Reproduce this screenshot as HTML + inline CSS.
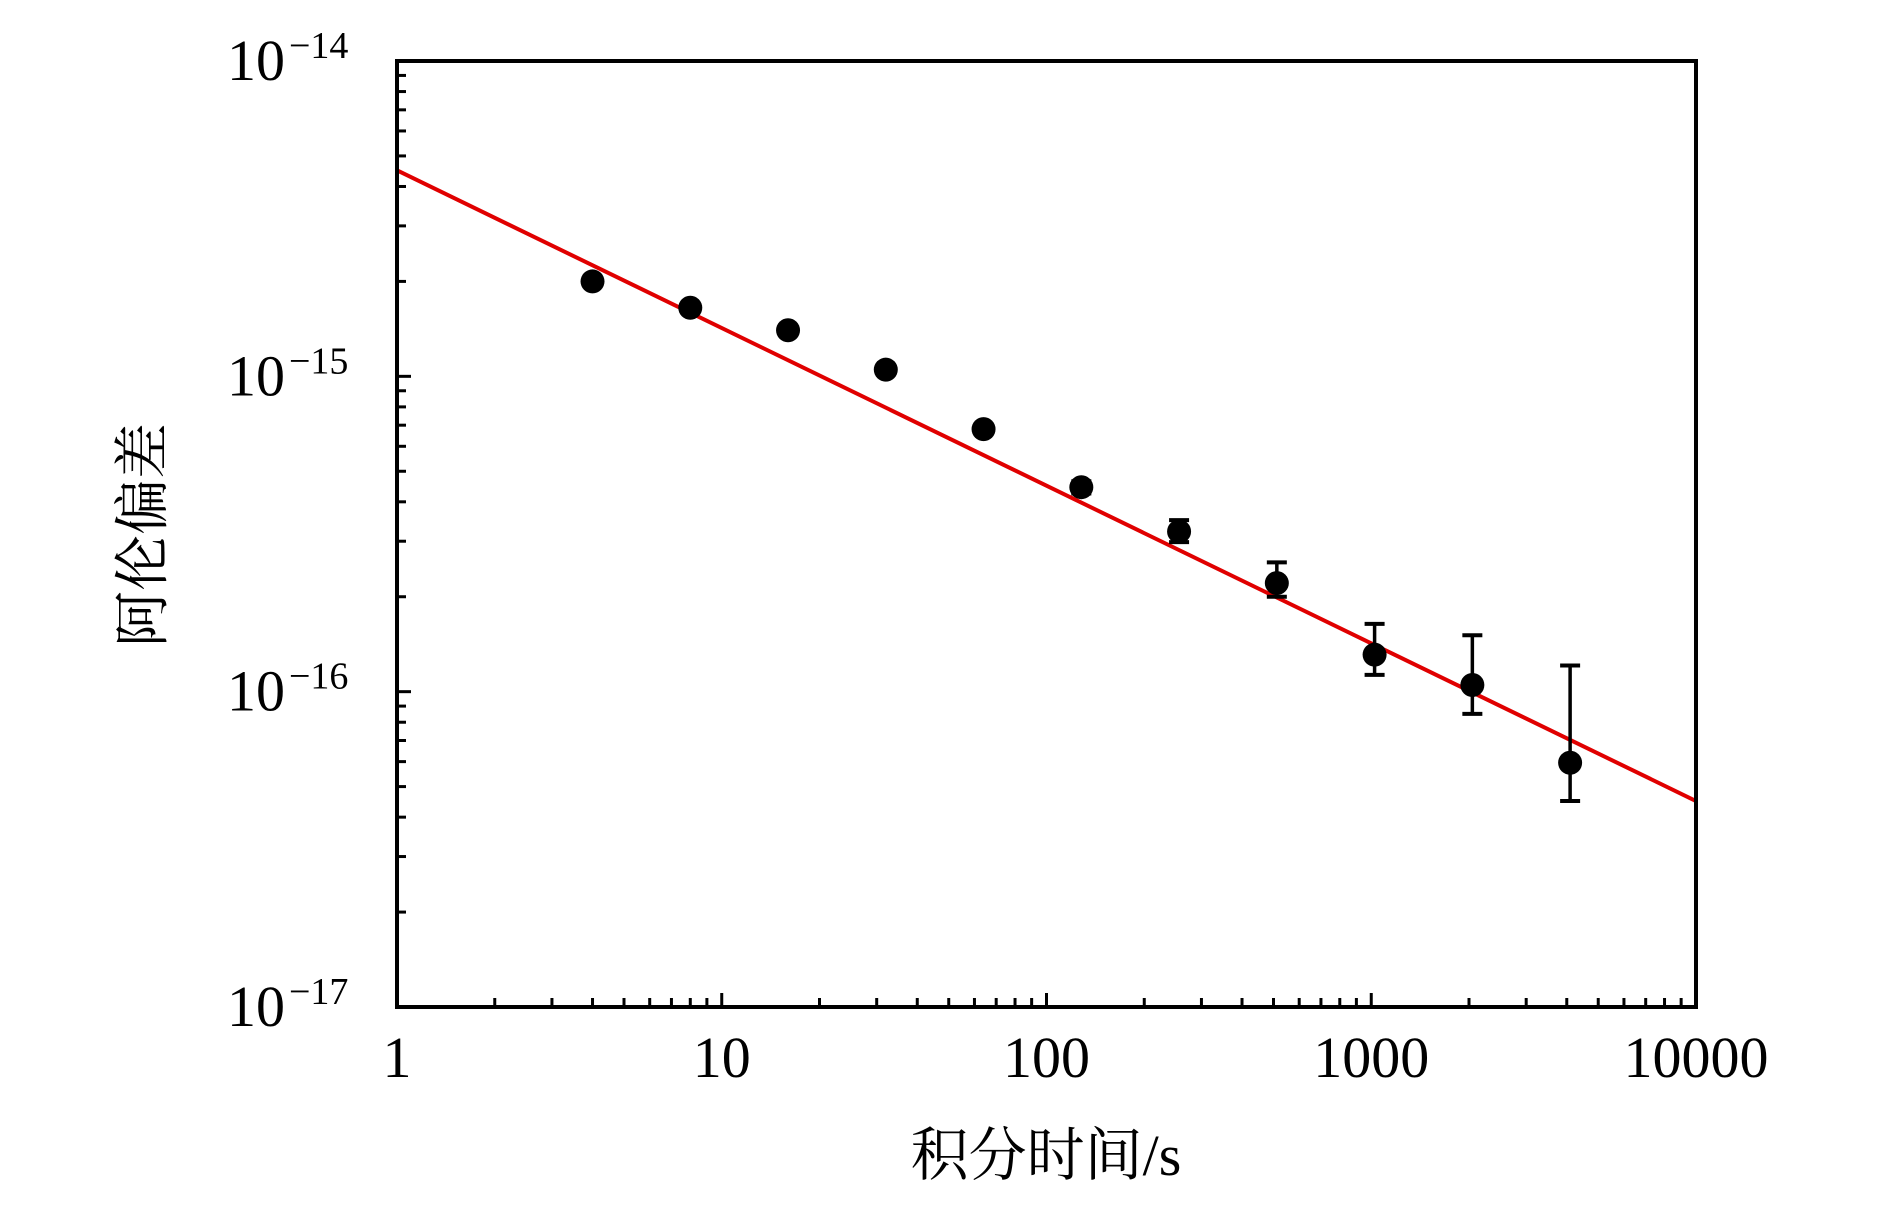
<!DOCTYPE html>
<html><head><meta charset="utf-8"><style>
html,body{margin:0;padding:0;background:#fff;}
svg{display:block;}
text{font-family:"Liberation Serif","Noto Serif CJK SC",serif;fill:#000;}
</style></head><body>
<svg id="chart" width="1890" height="1205" viewBox="0 0 1890 1205" xmlns="http://www.w3.org/2000/svg">
<g id="grid-layer"></g>
<g id="fit-layer"></g>
<g id="data-layer"></g>
<rect x="397" y="61" width="1299" height="946" fill="none" stroke="#000" stroke-width="4"/>
<g id="axis-layer"></g>
<text x="1046" y="1175" font-size="58" text-anchor="middle" style="font-family:'Liberation Serif','Noto Serif CJK SC',serif">积分时间/s</text>
<text transform="translate(162,535) rotate(-90)" font-size="56" text-anchor="middle" style="font-family:'Noto Serif CJK SC',serif">阿伦偏差</text>
</svg>
<script>
const tau = [4, 8, 16, 32, 64, 128, 256, 512, 1024, 2048, 4096];
const adev = [2.0e-15, 1.65e-15, 1.4e-15, 1.05e-15, 6.8e-16, 4.45e-16, 3.22e-16, 2.21e-16, 1.31e-16, 1.05e-16, 5.95e-17];
const errLow = [2.0e-15, 1.65e-15, 1.4e-15, 1.05e-15, 6.6e-16, 4.25e-16, 2.98e-16, 2.0e-16, 1.13e-16, 8.5e-17, 4.5e-17];
const errHigh = [2.0e-15, 1.65e-15, 1.4e-15, 1.05e-15, 7.0e-16, 4.65e-16, 3.5e-16, 2.57e-16, 1.64e-16, 1.51e-16, 1.21e-16];
const fitCoef = [4.5e-15];
const fitSlope = [-0.5];
const xTicks = [1, 10, 100, 1000, 10000];
const xTickLabels = ["1", "10", "100", "1000", "10000"];
const yTicks = [1e-17, 1e-16, 1e-15, 1e-14];
const yTickExps = ["−17", "−16", "−15", "−14"];

const L=397,R=1696,T=61,B=1007;
const NS="http://www.w3.org/2000/svg";
function xs(v){return L+(Math.log10(v)-0)/4*(R-L);}
function ys(v){return B-(Math.log10(v)+17)/3*(B-T);}
function mk(tag,attrs,parent){const e=document.createElementNS(NS,tag);for(const k in attrs)e.setAttribute(k,attrs[k]);parent.appendChild(e);return e;}
const axis=document.getElementById('axis-layer');
const fit=document.getElementById('fit-layer');
const data=document.getElementById('data-layer');

for(let d=0;d<4;d++){for(let m=1;m<10;m++){const v=Math.pow(10,d)*m;const x=xs(v);const len=m===1?14:9;
 const t=mk('line',{x1:x,y1:B,x2:x,y2:B-len,stroke:'#000','stroke-width':3},axis);
 
 }}
xTicks.forEach((v,i)=>{const t=mk('text',{x:xs(v),y:1077,'font-size':58,'text-anchor':'middle'},axis);t.textContent=xTickLabels[i];
 
 });
for(let d=-17;d<-14;d++){for(let m=1;m<10;m++){const v=Math.pow(10,d)*m;const y=ys(v);const len=m===1?14:9;
 const t=mk('line',{x1:L,y1:y,x2:L+len,y2:y,stroke:'#000','stroke-width':3},axis);
 
 }}
yTicks.forEach((v,i)=>{const y=ys(v);
 const t=mk('text',{x:285,y:y+19,'font-size':58,'text-anchor':'end'},axis);t.textContent='10';
 
 
 const s=mk('text',{x:289,y:y-3,'font-size':38,'text-anchor':'start'},axis);s.textContent=yTickExps[i];
 
 });

const fl=mk('line',{x1:xs(1),y1:ys(fitCoef[0]*Math.pow(1,fitSlope[0])),x2:xs(10000),y2:ys(fitCoef[0]*Math.pow(10000,fitSlope[0])),stroke:'#e00000','stroke-width':4},fit);



tau.forEach((t,i)=>{const x=xs(t);
 const g=mk('g',{},data);
 
 
 const yl=ys(errLow[i]),yh=ys(errHigh[i]);
 if(yl-yh>6){
  mk('line',{x1:x,y1:yh,x2:x,y2:yl,stroke:'#000','stroke-width':3.5},g);
  mk('line',{x1:x-10,y1:yh,x2:x+10,y2:yh,stroke:'#000','stroke-width':4},g);
  mk('line',{x1:x-10,y1:yl,x2:x+10,y2:yl,stroke:'#000','stroke-width':4},g);
 }
 mk('circle',{cx:x,cy:ys(adev[i]),r:12,fill:'#000'},g);
});
</script>
</body></html>
